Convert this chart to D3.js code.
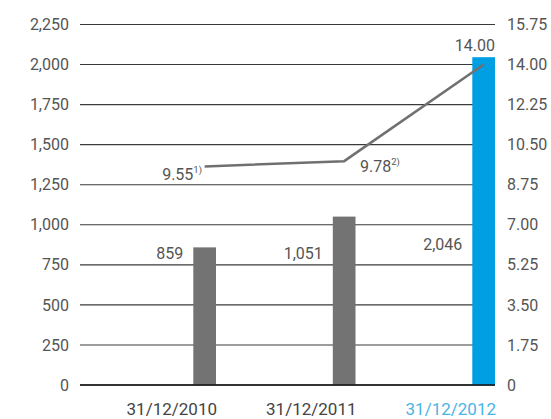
<!DOCTYPE html>
<html>
<head>
<meta charset="utf-8">
<script src="https://cdn.jsdelivr.net/npm/d3@7"></script>
<style>
  body { margin: 0; background: #fff; }
  svg text { font-family: Roboto, "Noto Sans", sans-serif; }
  .domain { display: none; }
</style>
</head>
<body>
<div id="chart"></div>
<script>
// data
var categories = ["31/12/2010", "31/12/2011", "31/12/2012"];
var barValues = [859, 1051, 2046];
var lineValues = [9.55, 9.78, 14.00];
var lineNotes = ["1)", "2)", ""];
var leftTicks = [0, 250, 500, 750, 1000, 1250, 1500, 1750, 2000, 2250];
var rightTicks = [0, 1.75, 3.5, 5.25, 7, 8.75, 10.5, 12.25, 14, 15.75];

var svgWidth = 551, svgHeight = 419;
var gridLeft = 80, gridRight = 495;
var yTop = 24.5, yBottom = 385;
var barWidth = 22.7;

var svg = d3.select("#chart")
  .append("svg")
  .attr("width", svgWidth)
  .attr("height", svgHeight);

// scales
var x = d3.scaleBand()
  .domain(categories)
  .range([76.5, gridRight])
  .padding(0);

var yLeft = d3.scaleLinear().domain([0, 2250]).range([yBottom, yTop]);
var yRight = d3.scaleLinear().domain([0, 15.75]).range([yBottom, yTop]);

// bar sits at the right end of each band
var barX = d => x(d) + x.bandwidth() - barWidth;

// gridlines
svg.append("g")
  .selectAll("line")
  .data(leftTicks)
  .enter()
  .append("line")
  .attr("x1", gridLeft)
  .attr("x2", gridRight)
  .attr("y1", d => yLeft(d))
  .attr("y2", d => yLeft(d))
  .attr("stroke", "#3a3a3a")
  .attr("stroke-width", 1.1);

// axes (labels only)
svg.append("g")
  .attr("transform", `translate(${gridLeft}, 0)`)
  .call(d3.axisLeft(yLeft).tickValues(leftTicks).tickFormat(d3.format(",")).tickSize(0).tickPadding(11));

svg.append("g")
  .attr("transform", `translate(${gridRight}, 0)`)
  .call(d3.axisRight(yRight).tickValues(rightTicks)
    .tickFormat(d => d === 0 ? "0" : d3.format(".2f")(d)).tickSize(0).tickPadding(12));

svg.selectAll(".tick text")
  .attr("font-size", 16)
  .attr("fill", "#555")
  .attr("font-family", "Roboto, sans-serif");

// bars
svg.append("g")
  .selectAll("rect")
  .data(barValues)
  .enter()
  .append("rect")
  .attr("x", (d, i) => barX(categories[i]))
  .attr("y", d => yLeft(d))
  .attr("width", barWidth)
  .attr("height", d => yBottom - yLeft(d))
  .attr("fill", (d, i) => i === 2 ? "#009fe3" : "#737373");

// zero line on top of bars
svg.append("line")
  .attr("x1", gridLeft).attr("x2", gridRight)
  .attr("y1", yLeft(0)).attr("y2", yLeft(0))
  .attr("stroke", "#111").attr("stroke-width", 1.6);

// bar value labels
var barLabelY = [258.5, 258.5, 250];
svg.append("g")
  .selectAll("text")
  .data(barValues)
  .enter()
  .append("text")
  .attr("x", (d, i) => barX(categories[i]) - 10)
  .attr("y", (d, i) => barLabelY[i])
  .attr("text-anchor", "end")
  .attr("font-size", 16)
  .attr("fill", "#555")
  .text(d => d3.format(",")(d));

// line
var line = d3.line()
  .x((d, i) => barX(categories[i]) + barWidth / 2)
  .y(d => yRight(d));

svg.append("path")
  .datum(lineValues)
  .attr("d", line)
  .attr("fill", "none")
  .attr("stroke", "#707070")
  .attr("stroke-width", 2.5);

// line labels
var lineLabelPos = [
  {x: 202, y: 180, anchor: "end"},
  {x: 360, y: 172, anchor: "start"},
  {x: 495, y: 51, anchor: "end"}
];
lineValues.forEach(function(v, i) {
  var t = svg.append("text")
    .attr("x", lineLabelPos[i].x)
    .attr("y", lineLabelPos[i].y)
    .attr("text-anchor", lineLabelPos[i].anchor)
    .attr("font-size", 16)
    .attr("fill", "#555");
  t.append("tspan").text(d3.format(".2f")(v));
  if (lineNotes[i]) {
    t.append("tspan")
      .attr("font-size", 9.5)
      .attr("dy", -7)
      .text(lineNotes[i]);
  }
});

// x labels
svg.append("g")
  .selectAll("text")
  .data(categories)
  .enter()
  .append("text")
  .attr("x", d => x(d) + x.bandwidth() + 1)
  .attr("y", 415)
  .attr("text-anchor", "end")
  .attr("font-size", 17)
  .attr("fill", (d, i) => i === 2 ? "#4ab4e6" : "#444")
  .text(d => d);
</script>
</body>
</html>
